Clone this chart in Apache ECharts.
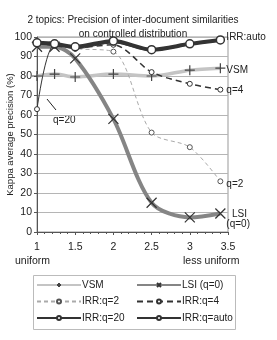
<!DOCTYPE html>
<html><head><meta charset="utf-8">
<script src="https://cdn.jsdelivr.net/npm/echarts@6/dist/echarts.min.js"></script>
<style>html,body{margin:0;padding:0;background:#fff}#c{width:277px;height:340px}</style>
</head><body><div id="c"></div>
<script>
var xValues = [1, 1.23, 1.5, 2, 2.5, 3, 3.4];
var vsm   = [80, 81, 79.5, 81, 80, 83, 84];
var lsi   = [95, 95, 89, 58, 15, 7.5, 9.5];
var irrQ2 = [97, 96, 94, 92.5, 51, 43.5, 26];
var irrQ4 = [97, 95.5, 94.5, 96, 82, 76, 73];
var irrQ20 = [63, 96, 94, 97, 93, 96, 98];
var irrAuto = [97, 96.5, 95, 98, 93.5, 96.5, 98.5];
var xTicks = [1, 1.5, 2, 2.5, 3, 3.5];
var yTicks = [0, 10, 20, 30, 40, 50, 60, 70, 80, 90, 100];

function pts(arr){ return arr.map(function(v,i){ return [xValues[i], v]; }); }
var FONT = 'Liberation Sans, Arial, sans-serif';
var FS = 10;
var plus = 'path://M0,5L10,5M5,0L5,10';
var cross = 'path://M0,0L10,10M10,0L0,10';
var lbl = function(t, off){ return {show:true, formatter:t, color:'#222', fontSize:FS, fontFamily:FONT, distance:6, offset: off||[0,0]}; };
var legendBase = {orient:'vertical', top:279.5, padding:0, itemWidth:44, itemHeight:5, itemGap:5.5,
  textStyle:{fontSize:FS, lineHeight:11, color:'#222', fontFamily:FONT, padding:[0,0,0,-4]}};

var chart = echarts.init(document.getElementById('c'), null, {renderer:'canvas'});
chart.setOption({
  animation:false,
  backgroundColor:'#fff',
  title:{text:'2 topics: Precision of inter-document similarities\non controlled distribution',
    left:128, top:8, textAlign:'center',
    textStyle:{fontSize:FS, fontWeight:'normal', color:'#222', fontFamily:FONT, lineHeight:14}},
  grid:{left:37, right:49, top:37, bottom:108, outerBoundsMode:'none', containLabel:false,
    show:true, borderColor:'#999', borderWidth:1, backgroundColor:'transparent'},
  xAxis:{type:'value', min:1, max:3.5, interval:0.5,
    axisLine:{lineStyle:{color:'#555'}}, axisTick:{show:true, length:3, lineStyle:{color:'#555'}},
    minorTick:{show:true, splitNumber:5, length:2, lineStyle:{color:'#555'}},
    splitLine:{show:false},
    axisLabel:{color:'#222', fontSize:FS+0.5, fontFamily:FONT, margin:10,
      formatter:function(v){ return xTicks.indexOf(v)>=0 ? String(v) : ''; }}},
  yAxis:{type:'value', min:0, max:100, interval:10,
    name:'Kappa average precision (%)', nameLocation:'middle', nameGap:22, nameMoveOverlap:false,
    nameTextStyle:{color:'#222', fontSize:9.5, fontFamily:FONT},
    axisLine:{show:true, lineStyle:{color:'#555'}}, axisTick:{show:true, inside:false, length:3, lineStyle:{color:'#555'}},
    splitLine:{show:true, lineStyle:{color:'#b5b5b5', width:1}},
    axisLabel:{color:'#222', fontSize:FS+0.5, fontFamily:FONT, margin:5,
      formatter:function(v){ return yTicks.indexOf(v)>=0 ? String(v) : ''; }}},
  legend:[
    Object.assign({data:['VSM','IRR:q=2','IRR:q=20'], left:36}, legendBase),
    Object.assign({data:['LSI (q=0)','IRR:q=4','IRR:q=auto'], left:136}, legendBase)
  ],
  graphic:[
    {type:'rect', shape:{x:33.5, y:275.5, width:202, height:54}, style:{fill:'none', stroke:'#bbb', lineWidth:1}, silent:true, z:-1},
    {type:'text', x:15, y:256, style:{text:'uniform', fill:'#222', fontSize:FS+0.5, fontFamily:FONT}},
    {type:'text', x:183, y:256, style:{text:'less uniform', fill:'#222', fontSize:FS+0.5, fontFamily:FONT}},
    {type:'text', x:53, y:115, style:{text:'q=20', fill:'#222', fontSize:FS, fontFamily:FONT}},
    {type:'line', shape:{x1:47, y1:99, x2:56, y2:110}, style:{stroke:'#222', lineWidth:1}, z:10}
  ],
  series:[
    {name:'VSM', type:'line', data:pts(vsm), smooth:0.3, symbol:plus, symbolSize:10,
      lineStyle:{color:'#c4c4c4', width:3.5}, itemStyle:{color:'#c4c4c4', borderColor:'#444', borderWidth:1.2},
      endLabel:lbl('VSM',[0,2])},
    {name:'LSI (q=0)', type:'line', data:pts(lsi), smooth:0.3, symbol:cross, symbolSize:10,
      lineStyle:{color:'#858585', width:4}, itemStyle:{color:'#858585', borderColor:'#333', borderWidth:1.2},
      endLabel:lbl('  LSI\n(q=0)',[0,6])},
    {name:'IRR:q=2', type:'line', data:pts(irrQ2), smooth:0.3, symbol:'circle', symbolSize:5,
      lineStyle:{color:'#aaa', width:1, type:[4,3]}, itemStyle:{color:'#fff', borderColor:'#555', borderWidth:1},
      endLabel:lbl('q=2',[0,3])},
    {name:'IRR:q=4', type:'line', data:pts(irrQ4), smooth:0.3, symbol:'circle', symbolSize:5,
      lineStyle:{color:'#333', width:1.5, type:[6,4]}, itemStyle:{color:'#fff', borderColor:'#333', borderWidth:1},
      endLabel:lbl('q=4',[0,1])},
    {name:'IRR:q=20', type:'line', data:pts(irrQ20), smooth:0.3, symbol:'circle', symbolSize:5,
      lineStyle:{color:'#333', width:1}, itemStyle:{color:'#fff', borderColor:'#333', borderWidth:1}},
    {name:'IRR:q=auto', type:'line', data:pts(irrAuto), smooth:0.3, symbol:'circle', symbolSize:8,
      lineStyle:{color:'#333', width:4}, itemStyle:{color:'#fff', borderColor:'#333', borderWidth:1.5},
      endLabel:lbl('IRR:auto',[0,-3])}
  ]
});
</script></body></html>
